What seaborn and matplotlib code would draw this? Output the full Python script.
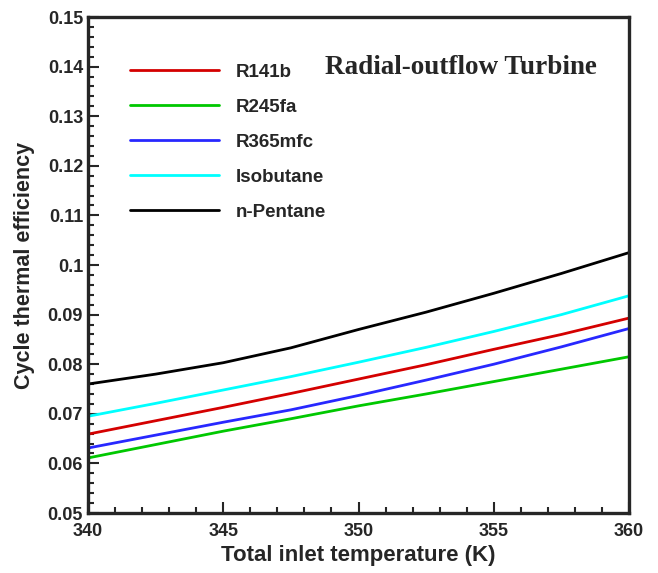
import matplotlib
matplotlib.use("Agg")
import matplotlib.pyplot as plt
import seaborn as sns
import pandas as pd
from matplotlib.ticker import MultipleLocator

# inlet temperature (K)
temps = [340, 342.5, 345, 347.5, 350, 352.5, 355, 357.5, 360]

r141b = [0.0659, 0.0686, 0.0713, 0.0741, 0.0770, 0.0799, 0.0830, 0.0860, 0.0893]
r245fa = [0.0611, 0.0638, 0.0665, 0.0690, 0.0716, 0.0740, 0.0765, 0.0790, 0.0815]
r365mfc = [0.0631, 0.0657, 0.0683, 0.0708, 0.0737, 0.0768, 0.0800, 0.0835, 0.0872]
isobutane = [0.0695, 0.0721, 0.0748, 0.0775, 0.0804, 0.0834, 0.0866, 0.0900, 0.0938]
n_pentane = [0.0760, 0.0780, 0.0803, 0.0833, 0.0870, 0.0905, 0.0943, 0.0983, 0.1025]

fluids = ["R141b", "R245fa", "R365mfc", "Isobutane", "n-Pentane"]
colors = ["#d40000", "#00c800", "#2828ff", "#00ffff", "#000000"]

series = [r141b, r245fa, r365mfc, isobutane, n_pentane]
rows = []
for name, vals in zip(fluids, series):
    for t, v in zip(temps, vals):
        rows.append({"T": t, "eff": v, "fluid": name})
df = pd.DataFrame(rows)

sns.set_style("ticks")
plt.rcParams["font.family"] = ["Liberation Sans", "DejaVu Sans"]
plt.rcParams["font.weight"] = "bold"

fig = plt.figure(figsize=(6.58, 5.73), dpi=100)
ax = fig.add_axes([0.1337, 0.1047, 0.8223, 0.8656])

sns.lineplot(data=df, x="T", y="eff", hue="fluid", hue_order=fluids,
             palette=colors, linewidth=2.0, ax=ax)

ax.set_xlim(340, 360)
ax.set_ylim(0.05, 0.15)
ax.xaxis.set_major_locator(MultipleLocator(5))
ax.xaxis.set_minor_locator(MultipleLocator(1))
ax.yaxis.set_minor_locator(MultipleLocator(0.002))
ax.set_yticks([0.05, 0.06, 0.07, 0.08, 0.09, 0.1, 0.11, 0.12, 0.13, 0.14, 0.15])
ax.set_yticklabels(["0.05", "0.06", "0.07", "0.08", "0.09", "0.1",
                    "0.11", "0.12", "0.13", "0.14", "0.15"])

ax.tick_params(which="both", direction="in", top=False, right=False, width=1.5)
ax.tick_params(which="major", length=8, labelsize=13)
ax.tick_params(axis="x", which="major", pad=7)
ax.tick_params(which="minor", length=4)
for s in ax.spines.values():
    s.set_linewidth(2.4)

ax.set_xlabel("Total inlet temperature (K)", fontsize=16, fontweight="bold", labelpad=4)
ax.set_ylabel("Cycle thermal efficiency", fontsize=15.5, fontweight="bold", labelpad=9)

ax.legend(loc="upper left", bbox_to_anchor=(0.047, 0.94), frameon=False,
          handlelength=4.75, handletextpad=0.85, labelspacing=0.95,
          prop={"weight": "bold", "size": 13.5})

ax.text(0.94, 0.899, "Radial-outflow Turbine", transform=ax.transAxes,
        ha="right", va="center", fontsize=19.5, fontweight="bold",
        family="Liberation Serif")

fig.savefig("out.png", dpi=100)
